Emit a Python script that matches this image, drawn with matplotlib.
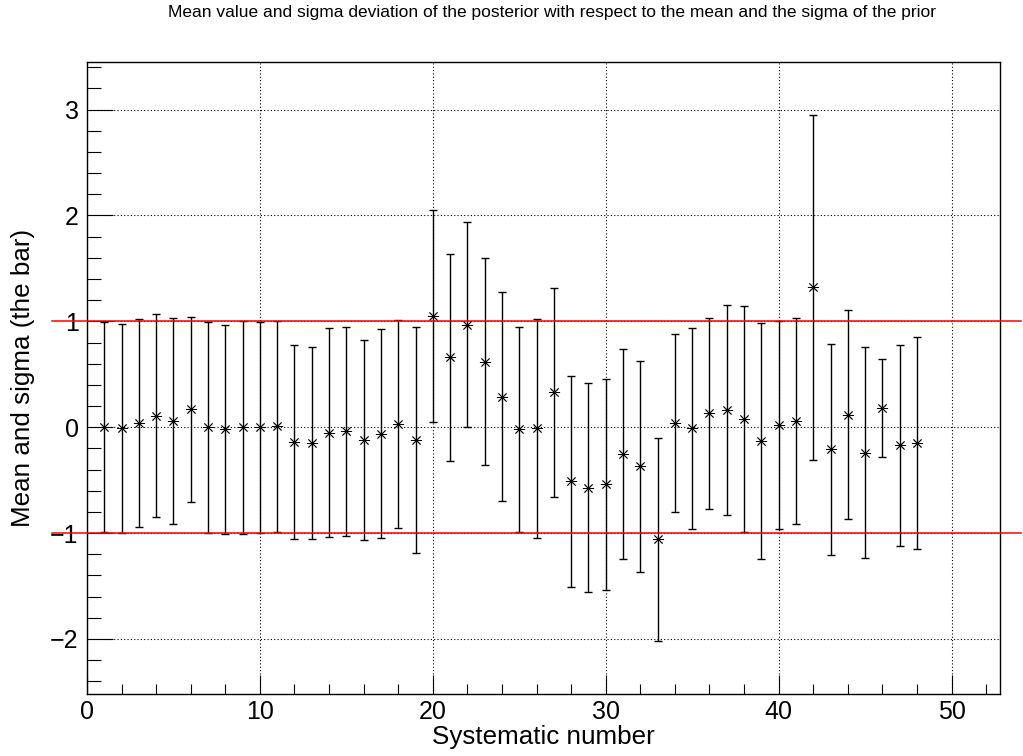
import numpy as np
import matplotlib
matplotlib.use("Agg")
import matplotlib.pyplot as plt
from matplotlib.ticker import MultipleLocator

plt.rcParams['font.family'] = ['Liberation Sans', 'DejaVu Sans']

# systematic index, posterior mean and sigma (relative to the prior)
syst = np.arange(1, 49)
mean = [0.00, -0.01, 0.04, 0.11, 0.06, 0.17, 0.00, -0.02, 0.00, 0.00,
        0.01, -0.14, -0.15, -0.05, -0.04, -0.12, -0.06, 0.03, -0.12, 1.05,
        0.66, 0.97, 0.62, 0.29, -0.02, -0.01, 0.33, -0.51, -0.57, -0.54,
        -0.25, -0.37, -1.06, 0.04, -0.01, 0.13, 0.16, 0.08, -0.13, 0.02,
        0.06, 1.32, -0.21, 0.12, -0.24, 0.18, -0.17, -0.15]
sigma = [0.99, 0.985, 0.985, 0.955, 0.975, 0.875, 0.995, 0.99, 1.005, 0.995,
         0.995, 0.92, 0.91, 0.99, 0.985, 0.945, 0.985, 0.985, 1.07, 1.00,
         0.98, 0.97, 0.98, 0.99, 0.965, 1.035, 0.985, 0.995, 0.985, 0.995,
         0.99, 0.995, 0.96, 0.84, 0.95, 0.90, 0.99, 1.065, 1.11, 0.98,
         0.97, 1.63, 0.995, 0.99, 0.995, 0.46, 0.95, 1.00]

fig = plt.figure(figsize=(10.23, 7.56), dpi=100)
ax = fig.add_axes([0.085, 0.082, 0.8925, 0.836])

ax.errorbar(syst, mean, yerr=sigma, fmt='none', ecolor='black',
            elinewidth=1.0, capsize=3, capthick=1.0, zorder=3)
ax.plot(syst, mean, linestyle='none', marker=(8, 2, 0), markersize=8,
        markeredgewidth=0.6, color='black', zorder=4)

# prior +-1 sigma band edges
for yv in (1, -1):
    ax.plot([-2.0, 54.0], [yv, yv], color='red', lw=1.1, clip_on=False, zorder=5)

ax.set_xlim(0, 52.8)
ax.set_ylim(-2.52, 3.45)
ax.xaxis.set_major_locator(MultipleLocator(10))
ax.xaxis.set_minor_locator(MultipleLocator(2))
ax.yaxis.set_major_locator(MultipleLocator(1))
ax.yaxis.set_minor_locator(MultipleLocator(0.2))
ax.tick_params(axis='both', which='both', direction='in', top=False, right=False,
               labelsize=18, width=0.8)
ax.tick_params(axis='y', which='major', length=19, pad=6)
ax.tick_params(axis='y', which='minor', length=10)
ax.tick_params(axis='x', which='major', length=14, pad=4)
ax.tick_params(axis='x', which='minor', length=7)
ax.grid(True, which='major', color='black', linestyle=(0, (1, 2)), linewidth=0.8)
for s in ax.spines.values():
    s.set_linewidth(1.0)

fig.text(0.54, 0.983, "Mean value and sigma deviation of the posterior with respect to the mean and the sigma of the prior",
         ha='center', va='center', fontsize=12.5)
fig.text(0.531, 0.025, "Systematic number", ha='center', va='center', fontsize=18.7)
fig.text(0.022, 0.5, "Mean and sigma (the bar)", ha='center', va='center',
         rotation=90, fontsize=18.7)

fig.savefig("out.png", dpi=100)
